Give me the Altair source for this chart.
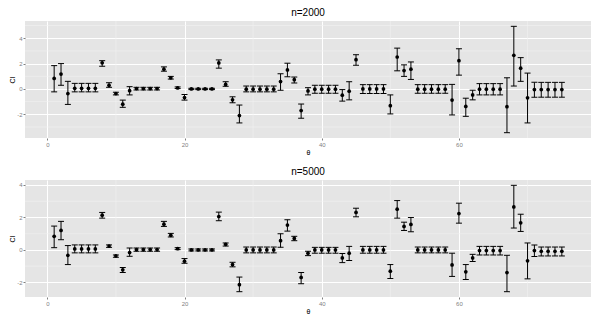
import altair as alt
import pandas as pd

theta = list(range(1, 76))

est_2000 = [0.83, 1.17, -0.36, 0.05, 0.05, 0.05, 0.05, 2.06, 0.29, -0.36,
            -1.20, -0.14, 0.03, 0.03, 0.03, 0.03, 1.56, 0.88, 0.08, -0.68,
            0.00, 0.00, 0.00, 0.00, 2.05, 0.36, -0.86, -2.10, -0.02, -0.02,
            -0.02, -0.02, -0.02, 0.58, 1.50, 0.73, -1.71, -0.16, -0.02, -0.02,
            -0.02, -0.02, -0.49, -0.18, 2.31, 0.00, 0.00, 0.00, 0.00, -1.32,
            2.52, 1.45, 1.56, -0.02, -0.02, -0.02, -0.02, -0.02, -0.88, 2.23,
            -1.38, -0.47, -0.02, -0.02, -0.02, -0.02, -1.40, 2.65, 1.64, -0.70,
            -0.05, -0.05, -0.05, -0.05, -0.05]
lo_2000 = [-0.23, 0.29, -1.22, -0.23, -0.23, -0.23, -0.23, 1.79, 0.13, -0.47,
           -1.45, -0.47, -0.08, -0.08, -0.08, -0.08, 1.40, 0.78, 0.03, -0.88,
           -0.05, -0.05, -0.05, -0.05, 1.64, 0.21, -1.09, -2.68, -0.23, -0.23,
           -0.23, -0.23, -0.23, -0.10, 0.96, 0.47, -2.31, -0.47, -0.34, -0.34,
           -0.34, -0.34, -0.96, -0.86, 1.87, -0.36, -0.36, -0.36, -0.36, -1.97,
           1.43, 0.99, 0.75, -0.34, -0.34, -0.34, -0.34, -0.34, -2.05, 1.09,
           -2.16, -0.86, -0.47, -0.47, -0.47, -0.47, -3.45, 0.23, 0.60, -2.68,
           -0.65, -0.65, -0.65, -0.65, -0.65]
hi_2000 = [1.84, 2.00, 0.60, 0.44, 0.44, 0.44, 0.44, 2.23, 0.49, -0.26,
           -0.88, 0.18, 0.13, 0.13, 0.13, 0.13, 1.74, 0.99, 0.16, -0.44,
           0.05, 0.05, 0.05, 0.05, 2.29, 0.57, -0.62, -1.27, 0.23, 0.23,
           0.23, 0.23, 0.23, 1.19, 2.03, 0.94, -1.19, 0.10, 0.29, 0.29,
           0.29, 0.29, -0.05, 0.57, 2.70, 0.34, 0.34, 0.34, 0.34, -0.47,
           3.22, 1.90, 2.13, 0.34, 0.34, 0.34, 0.34, 0.34, 0.36, 3.17,
           -0.73, -0.10, 0.42, 0.42, 0.42, 0.42, 0.88, 4.94, 2.47, 1.25,
           0.52, 0.52, 0.52, 0.52, 0.52]

est_5000 = [0.84, 1.20, -0.33, 0.06, 0.06, 0.06, 0.06, 2.14, 0.24, -0.37,
            -1.22, -0.16, 0.02, 0.02, 0.02, 0.02, 1.59, 0.90, 0.08, -0.69,
            0.00, 0.00, 0.00, 0.00, 2.06, 0.35, -0.90, -2.14, 0.00, 0.00,
            0.00, 0.00, 0.00, 0.57, 1.53, 0.71, -1.69, -0.20, 0.00, 0.00,
            0.00, 0.00, -0.49, -0.20, 2.31, 0.00, 0.00, 0.00, 0.00, -1.31,
            2.51, 1.45, 1.57, 0.00, 0.00, 0.00, 0.00, 0.00, -0.92, 2.24,
            -1.35, -0.49, -0.04, -0.04, -0.04, -0.04, -1.39, 2.65, 1.67, -0.67,
            -0.04, -0.08, -0.08, -0.08, -0.08]
lo_5000 = [0.14, 0.63, -0.90, -0.18, -0.18, -0.18, -0.18, 1.96, 0.16, -0.45,
           -1.39, -0.39, -0.08, -0.08, -0.08, -0.08, 1.45, 0.80, 0.02, -0.82,
           -0.06, -0.06, -0.06, -0.06, 1.80, 0.24, -1.04, -2.57, -0.18, -0.18,
           -0.18, -0.18, -0.18, 0.16, 1.16, 0.57, -2.08, -0.35, -0.20, -0.20,
           -0.20, -0.20, -0.78, -0.65, 2.04, -0.20, -0.20, -0.20, -0.20, -1.76,
           1.96, 1.20, 1.12, -0.18, -0.18, -0.18, -0.18, -0.18, -1.63, 1.65,
           -1.82, -0.71, -0.31, -0.31, -0.31, -0.31, -2.57, 1.35, 1.14, -1.78,
           -0.41, -0.37, -0.37, -0.37, -0.37]
hi_5000 = [1.47, 1.76, 0.27, 0.31, 0.31, 0.31, 0.31, 2.31, 0.31, -0.31,
           -1.08, 0.12, 0.12, 0.12, 0.12, 0.12, 1.76, 1.02, 0.14, -0.53,
           0.06, 0.06, 0.06, 0.06, 2.33, 0.43, -0.76, -1.67, 0.18, 0.18,
           0.18, 0.18, 0.18, 1.00, 1.86, 0.84, -1.39, -0.08, 0.16, 0.16,
           0.16, 0.16, -0.22, 0.22, 2.57, 0.22, 0.22, 0.22, 0.22, -0.90,
           3.04, 1.71, 2.00, 0.18, 0.18, 0.18, 0.18, 0.18, -0.20, 2.88,
           -0.90, -0.27, 0.22, 0.22, 0.22, 0.22, -0.33, 3.98, 2.20, 0.43,
           0.31, 0.18, 0.18, 0.18, 0.18]

x_major = [0, 20, 40, 60]
x_minor = [10, 30, 50, 70]
y_major = [-2, 0, 2, 4]
y_minor = [-3, -1, 1, 3, 5]

FONT = "Liberation Sans"
GRID_MAJOR = "#FFFFFF"
GRID_MINOR = "#F2F2F2"
LABEL_GREY = "#7F7F7F"


def panel(est, lo, hi, title):
    df = pd.DataFrame({"theta": theta, "est": est, "lo": lo, "hi": hi})
    ymin, ymax = min(lo), max(hi)
    pad = 0.05 * (ymax - ymin)
    xscale = alt.Scale(domain=[-3.25, 79.25], nice=False, zero=False)
    yscale = alt.Scale(domain=[ymin - pad, ymax + pad], nice=False, zero=False)

    xaxis = alt.Axis(values=x_major, title="θ", domain=False, labelOverlap=False,
                     labelFlush=False, gridColor=GRID_MAJOR, gridWidth=1,
                     labelExpr="'' + datum.value")
    yaxis = alt.Axis(values=y_major, title="CI", domain=False, labelOverlap=False,
                     labelFlush=False, gridColor=GRID_MAJOR, gridWidth=1,
                     labelExpr="'' + datum.value")

    def X(field):
        return alt.X(field, type="quantitative", scale=xscale, axis=xaxis)

    def Y(field):
        return alt.Y(field, type="quantitative", scale=yscale, axis=yaxis)

    minor_x = alt.Chart(pd.DataFrame({"v": x_minor})).mark_rule(
        color=GRID_MINOR, strokeWidth=0.6, clip=True).encode(x=X("v"))
    minor_y = alt.Chart(pd.DataFrame({"v": y_minor})).mark_rule(
        color=GRID_MINOR, strokeWidth=0.6, clip=True).encode(y=Y("v"))

    base = alt.Chart(df)
    bars = base.mark_rule(color="black", strokeWidth=1).encode(
        x=X("theta"), y=Y("lo"), y2="hi")
    cap_lo = base.mark_tick(orient="horizontal", color="black", size=6,
                            thickness=1, opacity=1).encode(x=X("theta"), y=Y("lo"))
    cap_hi = base.mark_tick(orient="horizontal", color="black", size=6,
                            thickness=1, opacity=1).encode(x=X("theta"), y=Y("hi"))
    pts = base.mark_circle(color="black", size=14, opacity=1).encode(
        x=X("theta"), y=Y("est"))

    return alt.layer(minor_x, minor_y, bars, cap_lo, cap_hi, pts).properties(
        width=566, height=117,
        title=alt.Title(title, fontSize=10, fontWeight="normal", font=FONT,
                        color="black", offset=3),
    )


chart = alt.vconcat(
    panel(est_2000, lo_2000, hi_2000, "n=2000"),
    panel(est_5000, lo_5000, hi_5000, "n=5000"),
    spacing=12,
).properties(
    padding={"left": 0, "top": 0, "right": 0, "bottom": 0},
    background="white",
).configure_view(
    fill="#E5E5E5", strokeWidth=0
).configure_axis(
    labelFont=FONT, labelFontSize=6, labelColor=LABEL_GREY,
    tickColor=LABEL_GREY, tickSize=2, tickWidth=1, labelPadding=1,
    titleFont=FONT, titleFontSize=7, titleFontWeight="normal", titleColor="black",
    titlePadding=1,
)

chart.save("out.html", embed_options={"renderer": "svg", "actions": False})
